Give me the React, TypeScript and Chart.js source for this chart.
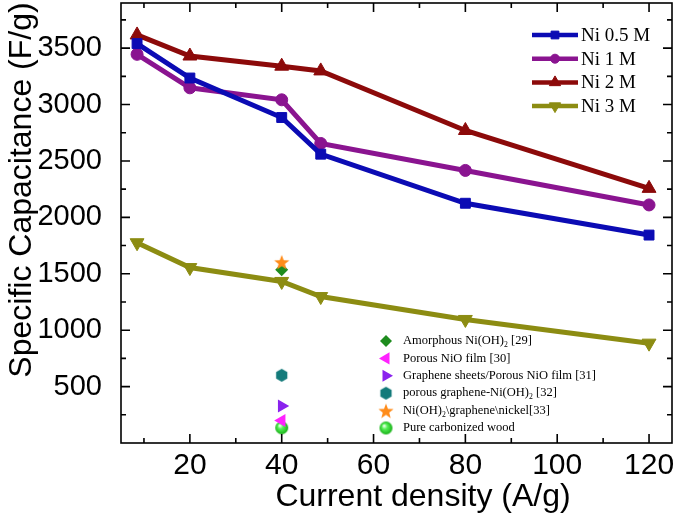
import React, { useEffect, useRef } from 'react';
import { Chart, registerables } from 'chart.js';
import { drawPoint } from 'chart.js/helpers';

Chart.register(...registerables);

// ---- data ----
const currentDensity = [8.5, 20, 40, 48.5, 80, 120];
const ni05 = [3540, 3235, 2885, 2560, 2125, 1843];
const ni1 = [3445, 3148, 3042, 2655, 2416, 2110];
const ni2 = [3617, 3430, 3340, 3298, 2770, 2257];
const ni3 = [1775, 1555, 1432, 1298, 1095, 885];
const seriesNames = ['Ni 0.5 M', 'Ni 1 M', 'Ni 2 M', 'Ni 3 M'];

const refDensity = 40;
const refLabels = [
  'Amorphous Ni(OH)₂ [29]',
  'Porous NiO film [30]',
  'Graphene sheets/Porous NiO film [31]',
  'porous graphene-Ni(OH)₂ [32]',
  'Ni(OH)₂\\graphene\\nickel[33]',
  'Pure carbonized wood',
];
const refValues = [1535, 200, 328, 600, 1605, 135];

const xMajorTicks = [20, 40, 60, 80, 100, 120];
const xMinorTicks = [10, 30, 50, 70, 90, 110];
const yMajorTicks = [500, 1000, 1500, 2000, 2500, 3000, 3500];
const yMinorTicks = [250, 750, 1250, 1750, 2250, 2750, 3250, 3750];
const xTitle = 'Current density (A/g)';
const yTitle = 'Specific Capacitance (F/g)';

// ---- styles ----
const seriesColors = ['#0B0BB4', '#8A1490', '#8C0A0A', '#8C8C12'];
const seriesStyles = ['rect', 'circle', 'triangle', 'triangle'];
const seriesRot = [0, 0, 0, 180];
const seriesRadius = [7, 6, 8, 8];
const refColors = ['#1E8C1E', '#FF22FF', '#8A22EE', '#137A7A', '#FF8C1A', '#33DD33'];

function makeHexagon(color: string, r: number) {
  const c = document.createElement('canvas');
  const s = Math.ceil(r * 2 + 2);
  c.width = s; c.height = s;
  const g = c.getContext('2d')!;
  g.fillStyle = color;
  g.beginPath();
  for (let i = 0; i < 6; i++) {
    const a = Math.PI / 6 + (i * Math.PI) / 3;
    const px = s / 2 + r * Math.cos(a);
    const py = s / 2 + r * Math.sin(a);
    if (i === 0) g.moveTo(px, py); else g.lineTo(px, py);
  }
  g.closePath();
  g.fill();
  return c;
}
function makeStar(color: string, r: number) {
  const c = document.createElement('canvas');
  const s = Math.ceil(r * 2 + 2);
  c.width = s; c.height = s;
  const g = c.getContext('2d')!;
  g.fillStyle = color;
  g.beginPath();
  for (let i = 0; i < 10; i++) {
    const rr = i % 2 === 0 ? r : r * 0.42;
    const a = -Math.PI / 2 + (i * Math.PI) / 5;
    const px = s / 2 + rr * Math.cos(a);
    const py = s / 2 + 1 + rr * Math.sin(a);
    if (i === 0) g.moveTo(px, py); else g.lineTo(px, py);
  }
  g.closePath();
  g.fill();
  return c;
}
function makeSphere(r: number) {
  const c = document.createElement('canvas');
  const s = Math.ceil(r * 2 + 2);
  c.width = s; c.height = s;
  const g = c.getContext('2d')!;
  const grad = g.createRadialGradient(s / 2 - r * 0.3, s / 2 - r * 0.35, r * 0.1, s / 2, s / 2, r);
  grad.addColorStop(0, '#E8FFE8');
  grad.addColorStop(0.35, '#55F055');
  grad.addColorStop(1, '#18B018');
  g.fillStyle = grad;
  g.beginPath();
  g.arc(s / 2, s / 2, r, 0, Math.PI * 2);
  g.fill();
  return c;
}

function drawRich(ctx: CanvasRenderingContext2D, text: string, x: number, y: number, size: number, family: string) {
  const parts = text.split('₂');
  let cx = x;
  parts.forEach((p, i) => {
    ctx.font = `${size}px ${family}`;
    ctx.fillText(p, cx, y);
    cx += ctx.measureText(p).width;
    if (i < parts.length - 1) {
      ctx.font = `${size * 0.62}px ${family}`;
      ctx.fillText('2', cx, y + size * 0.32);
      cx += ctx.measureText('2').width;
    }
  });
}

export default function App() {
  const ref = useRef<HTMLCanvasElement>(null);
  useEffect(() => {
    const canvas = ref.current!;
    const hex = makeHexagon(refColors[3], 6.5);
    const star = makeStar(refColors[4], 8);
    const sphere = makeSphere(6.5);
    const refStyles: any[] = ['rectRot', 'triangle', 'triangle', hex, star, sphere];
    const refRot = [0, -90, 90, 0, 0, 0];
    const refRadius = [6.5, 7.5, 7.5, 6.5, 8, 6.5];

    const seriesData = [ni05, ni1, ni2, ni3];
    const datasets: any[] = [];
    refValues.forEach((v, i) => {
      datasets.push({
        label: refLabels[i],
        data: [{ x: refDensity, y: v }],
        showLine: false,
        pointStyle: refStyles[i],
        pointRotation: refRot[i],
        pointRadius: refRadius[i],
        pointBackgroundColor: refColors[i],
        pointBorderColor: refColors[i],
        pointBorderWidth: 0,
        order: i === 4 ? 0 : 1,
      });
    });
    seriesData.forEach((arr, i) => {
      datasets.push({
        label: seriesNames[i],
        data: arr.map((v, j) => ({ x: currentDensity[j], y: v })),
        borderColor: seriesColors[i],
        backgroundColor: seriesColors[i],
        borderWidth: 5,
        pointStyle: seriesStyles[i],
        pointRotation: seriesRot[i],
        pointRadius: seriesRadius[i],
        pointBackgroundColor: seriesColors[i],
        pointBorderColor: seriesColors[i],
        pointBorderWidth: 1,
        tension: 0,
        order: 2 + i,
      });
    });

    const sans = '"Liberation Sans", Arial, sans-serif';
    const serif = '"Liberation Serif", "Times New Roman", serif';

    const boxPlugin = {
      id: 'boxPlugin',
      afterDraw(chart: any) {
        const { ctx, chartArea } = chart;
        const { left, right, top, bottom } = chartArea;
        const xs = chart.scales.x;
        const ys = chart.scales.y;
        ctx.save();
        ctx.strokeStyle = '#000';
        ctx.lineWidth = 1.6;
        ctx.strokeRect(left, top, right - left, bottom - top);
        ctx.beginPath();
        const tickX = (v: number, len: number) => {
          const p = xs.getPixelForValue(v);
          ctx.moveTo(p, bottom); ctx.lineTo(p, bottom - len);
          ctx.moveTo(p, top); ctx.lineTo(p, top + len);
        };
        const tickY = (v: number, len: number) => {
          const p = ys.getPixelForValue(v);
          ctx.moveTo(left, p); ctx.lineTo(left + len, p);
          ctx.moveTo(right, p); ctx.lineTo(right - len, p);
        };
        xMajorTicks.forEach((v) => tickX(v, 9));
        xMinorTicks.forEach((v) => tickX(v, 5));
        yMajorTicks.forEach((v) => tickY(v, 9));
        yMinorTicks.forEach((v) => tickY(v, 5));
        ctx.stroke();

        // axis titles
        ctx.fillStyle = '#000';
        ctx.font = `32px ${sans}`;
        ctx.textAlign = 'center';
        ctx.textBaseline = 'alphabetic';
        ctx.fillText(xTitle, 423, 506);
        ctx.save();
        ctx.translate(31, 190);
        ctx.rotate(-Math.PI / 2);
        ctx.fillText(yTitle, 0, 0);
        ctx.restore();

        // series legend
        ctx.textAlign = 'left';
        ctx.textBaseline = 'middle';
        seriesNames.forEach((name, i) => {
          const ly = 35 + i * 23.7;
          ctx.strokeStyle = seriesColors[i];
          ctx.lineWidth = 4.5;
          ctx.beginPath();
          ctx.moveTo(532, ly); ctx.lineTo(578, ly);
          ctx.stroke();
          ctx.fillStyle = seriesColors[i];
          ctx.strokeStyle = seriesColors[i];
          ctx.lineWidth = 1;
          drawPoint(ctx, { pointStyle: seriesStyles[i] as any, rotation: seriesRot[i], radius: seriesRadius[i] - 1.5, borderWidth: 1 }, 555, ly);
          ctx.fillStyle = '#000';
          ctx.font = `19px ${serif}`;
          ctx.fillText(name, 581, ly + 1);
        });

        // reference legend
        refLabels.forEach((lab, i) => {
          const ly = 341 + i * 17.4;
          const st = refStyles[i];
          ctx.fillStyle = refColors[i];
          ctx.strokeStyle = refColors[i];
          if (typeof st === 'string') {
            drawPoint(ctx, { pointStyle: st as any, rotation: refRot[i], radius: refRadius[i] - 0.5, borderWidth: 0 }, 386, ly);
          } else {
            ctx.drawImage(st, 386 - st.width / 2, ly - st.height / 2);
          }
          ctx.fillStyle = '#000';
          ctx.textBaseline = 'middle';
          drawRich(ctx, lab, 403, ly, 12.5, serif);
        });
        ctx.restore();
      },
    };

    const chart = new Chart(canvas, {
      type: 'line',
      data: { datasets },
      plugins: [boxPlugin],
      options: {
        animation: false,
        responsive: false,
        maintainAspectRatio: false,
        layout: { autoPadding: false, padding: { left: 0, top: 3, right: 3, bottom: 0 } },
        plugins: { legend: { display: false }, tooltip: { enabled: false } },
        scales: {
          x: {
            type: 'linear',
            min: 5,
            max: 125,
            grid: { display: false },
            border: { display: false },
            afterBuildTicks: (s: any) => { s.ticks = xMajorTicks.map((v) => ({ value: v })); },
            afterFit: (s: any) => { s.height = 80; s.paddingLeft = 0; s.paddingRight = 0; },
            ticks: { color: '#000', font: { family: sans, size: 30 }, padding: -3, maxRotation: 0, autoSkip: false, callback: (v: any) => String(v) },
          },
          y: {
            type: 'linear',
            min: 0,
            max: 3900,
            grid: { display: false },
            border: { display: false },
            afterBuildTicks: (s: any) => { s.ticks = yMajorTicks.map((v) => ({ value: v })); },
            afterFit: (s: any) => { s.width = 121; s.paddingTop = 0; s.paddingBottom = 0; },
            ticks: { color: '#000', font: { family: sans, size: 29 }, padding: 11, autoSkip: false, callback: (v: any) => String(v) },
          },
        },
      } as any,
    });
    return () => chart.destroy();
  }, []);
  return (
    <div style={{ position: 'absolute', left: 0, top: 0, width: 675, height: 523, background: '#fff' }}>
      <canvas ref={ref} width={675} height={523} />
    </div>
  );
}
